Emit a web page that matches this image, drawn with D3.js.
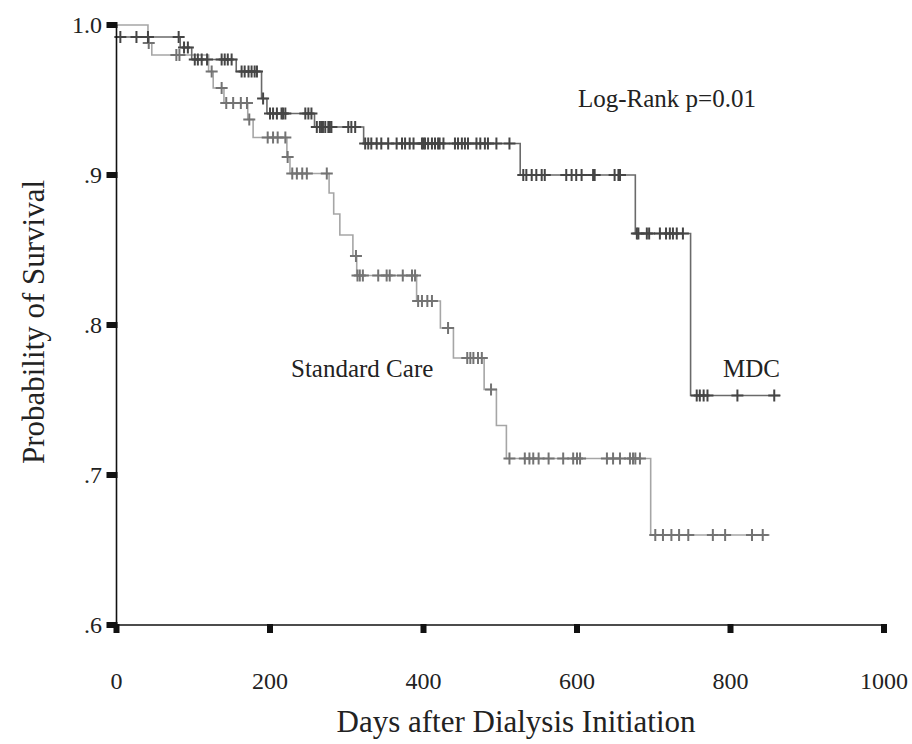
<!DOCTYPE html>
<html>
<head>
<meta charset="utf-8">
<script src="https://cdn.jsdelivr.net/npm/d3@7"></script>
<style>
  body { margin: 0; background: white; }
  svg { display: block; font-family: "Liberation Serif", "Times New Roman", serif; }
</style>
</head>
<body>
<svg id="chart" width="912" height="744"></svg>
<script>
'use strict';

/* global d3 */

// tick labels
var xTicks = [0, 200, 400, 600, 800, 1000];
var yTicks = [0.6, 0.7, 0.8, 0.9, 1.0];
var yTickLabels = [".6", ".7", ".8", ".9", "1.0"];

// MDC: [day, survival] at each drop, plus last follow-up day
var mdcSteps = [[0, 0.992], [83, 0.985], [98, 0.977], [156, 0.969], [189, 0.951],
    [196, 0.941], [258, 0.932], [322, 0.921], [526, 0.900], [676, 0.861], [748, 0.753]];
var mdcEnd = 865;
var mdcCensored = [5, 26, 41, 81, 88, 93, 102, 106, 111, 118, 137, 141, 145, 150,
    163, 167, 172, 176, 180, 183, 191, 200, 204, 209, 215, 217, 220, 246, 250, 254,
    261, 265, 267, 269, 272, 276, 278, 280, 302, 306, 311,
    324, 328, 332, 339, 345, 354, 365, 372, 376, 382, 387, 398, 400, 402, 406, 411,
    415, 419, 421, 426, 441, 445, 450, 454, 458, 469, 474, 480, 484, 495, 512,
    530, 534, 541, 547, 554, 558, 586, 593, 599, 606, 621, 623, 649, 654, 656,
    678, 680, 691, 694, 708, 716, 721, 725, 730, 738,
    756, 760, 765, 770, 809, 857];

// Standard care
var scSteps = [[0, 1.0], [41, 0.988], [46, 0.980], [120, 0.969], [126, 0.958],
    [140, 0.948], [171, 0.937], [178, 0.925], [222, 0.912], [226, 0.901],
    [277, 0.888], [283, 0.874], [291, 0.860], [308, 0.846], [313, 0.833],
    [391, 0.816], [422, 0.798], [439, 0.778], [479, 0.757], [495, 0.733],
    [508, 0.711], [696, 0.660]];
var scEnd = 851;
var scCensored = [42, 78, 82, 124, 137, 143, 152, 162, 170, 173,
    197, 204, 210, 220, 223, 229, 235, 242, 248, 274, 312,
    314, 317, 321, 341, 352, 356, 373, 385, 389, 393, 398, 405, 411, 432,
    457, 461, 465, 471, 476, 488,
    512, 532, 538, 543, 550, 563, 582, 595, 600, 604, 639, 647, 656, 669, 673, 676, 682,
    702, 712, 723, 733, 745, 777, 793, 828, 842];

var svg = d3.select("#chart");

var x = d3.scaleLinear().domain([0, 1000]).range([116.5, 884]);
var y = d3.scaleLinear().domain([0.6, 1.0]).range([625, 25]);

// value of a step curve at a given day
function survAt(steps, day) {
    var s = steps[0][1];
    steps.forEach(function(p) {
        if (p[0] <= day) {
            s = p[1];
        }
    });
    return s;
}

function stepPoints(steps, end) {
    var pts = steps.slice();
    pts.push([end, steps[steps.length - 1][1]]);
    return pts;
}

var line = d3.line()
    .curve(d3.curveStepAfter)
    .x(function(d) { return x(d[0]); })
    .y(function(d) { return y(d[1]); });

function drawCurve(steps, end, censored, lineColor, markColor, cls) {
    var g = svg.append("g").attr("class", cls);
    g.append("path")
        .datum(stepPoints(steps, end))
        .attr("fill", "none")
        .attr("stroke", lineColor)
        .attr("stroke-width", 1.6)
        .attr("d", line);

    g.selectAll("path.mark")
        .data(censored)
        .enter()
        .append("path")
        .attr("class", "mark")
        .attr("fill", "none")
        .attr("stroke", markColor)
        .attr("stroke-width", 2)
        .attr("d", function(d) {
            var cx = x(d), cy = y(survAt(steps, d));
            return "M" + (cx - 6) + "," + cy + "H" + (cx + 6) +
                "M" + cx + "," + (cy - 6) + "V" + (cy + 6);
        });
}

drawCurve(scSteps, scEnd, scCensored, "#a6a6a6", "#737373", "sc");
drawCurve(mdcSteps, mdcEnd, mdcCensored, "#6a6a6a", "#454545", "mdc");

// axes
var axes = svg.append("g").attr("class", "axes");
axes.append("line")
    .attr("x1", x(0)).attr("x2", x(1000))
    .attr("y1", y(0.6)).attr("y2", y(0.6))
    .attr("stroke", "#111").attr("stroke-width", 1.6);
axes.append("line")
    .attr("x1", x(0)).attr("x2", x(0))
    .attr("y1", y(0.6)).attr("y2", y(1.0))
    .attr("stroke", "#111").attr("stroke-width", 1.6);

axes.selectAll("rect.xtick")
    .data(xTicks)
    .enter()
    .append("rect")
    .attr("class", "xtick")
    .attr("x", function(d) { return x(d) - 3; })
    .attr("y", y(0.6) - 1)
    .attr("width", 6)
    .attr("height", 9)
    .attr("fill", "#111");

axes.selectAll("rect.ytick")
    .data(yTicks)
    .enter()
    .append("rect")
    .attr("class", "ytick")
    .attr("x", x(0) - 10)
    .attr("y", function(d) { return y(d) - 3; })
    .attr("width", 11)
    .attr("height", 6)
    .attr("fill", "#111");

axes.selectAll("text.xlabel")
    .data(xTicks)
    .enter()
    .append("text")
    .attr("class", "xlabel")
    .attr("x", function(d) { return x(d); })
    .attr("y", 689)
    .attr("text-anchor", "middle")
    .style("font-size", "24px")
    .attr("fill", "#222")
    .text(function(d) { return d; });

axes.selectAll("text.ylabel")
    .data(yTicks)
    .enter()
    .append("text")
    .attr("class", "ylabel")
    .attr("x", 102)
    .attr("y", function(d) { return y(d) + 8; })
    .attr("text-anchor", "end")
    .style("font-size", "24px")
    .attr("fill", "#222")
    .text(function(d, i) { return yTickLabels[i]; });

svg.append("text")
    .attr("x", 516)
    .attr("y", 732)
    .attr("text-anchor", "middle")
    .style("font-size", "31px")
    .attr("fill", "#222")
    .text("Days after Dialysis Initiation");

svg.append("text")
    .attr("transform", "translate(44,322) rotate(-90)")
    .attr("text-anchor", "middle")
    .style("font-size", "31px")
    .attr("fill", "#222")
    .text("Probability of Survival");

// annotations
svg.append("text")
    .attr("x", 578).attr("y", 107)
    .style("font-size", "25px")
    .attr("fill", "#222")
    .text("Log-Rank p=0.01");

svg.append("text")
    .attr("x", 291).attr("y", 377)
    .style("font-size", "25px")
    .attr("fill", "#222")
    .text("Standard Care");

svg.append("text")
    .attr("x", 723).attr("y", 377)
    .style("font-size", "25px")
    .attr("fill", "#222")
    .text("MDC");
</script>
</body>
</html>
